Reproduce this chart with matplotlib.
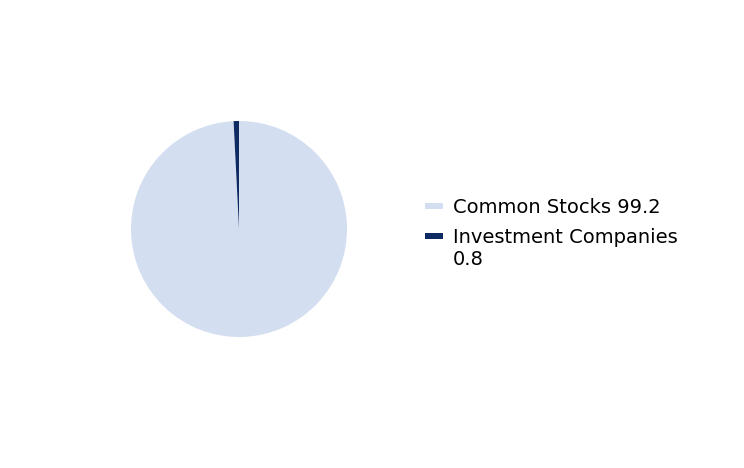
import matplotlib.pyplot as plt
from matplotlib.patches import Rectangle

# Données
categories = ["Common Stocks", "Investment Companies"]
values = [99.2, 0.8]
labels = ["Common Stocks 99.2", "Investment Companies\n0.8"]
colors = ["#D3DEF0", "#0E2A63"]

fig = plt.figure(figsize=(7.44, 4.68), dpi=100)
W, H = 744, 468
cx, cy, r = 239, 229, 108
ax = fig.add_axes([(cx - r) / W, (H - cy - r) / H, 2 * r / W, 2 * r / H])
ax.pie(values, colors=colors, startangle=90, counterclock=False,
       wedgeprops=dict(linewidth=0))
ax.set_xlim(-1, 1)
ax.set_ylim(-1, 1)
ax.set_aspect("equal")
ax.axis("off")

# légende faite à la main (carré aligné sur la 1re ligne)
row_y = [206, 236]
for lab, col, y in zip(labels, colors, row_y):
    fig.add_artist(Rectangle((425 / W, 1 - (y + 3) / H), 18 / W, 6 / H,
                             transform=fig.transFigure, facecolor=col,
                             edgecolor="none"))
    fig.text(453 / W, 1 - (y - 8) / H, lab, fontsize=14, va="top", ha="left",
             linespacing=1.2)

fig.savefig("out.png", dpi=100)
